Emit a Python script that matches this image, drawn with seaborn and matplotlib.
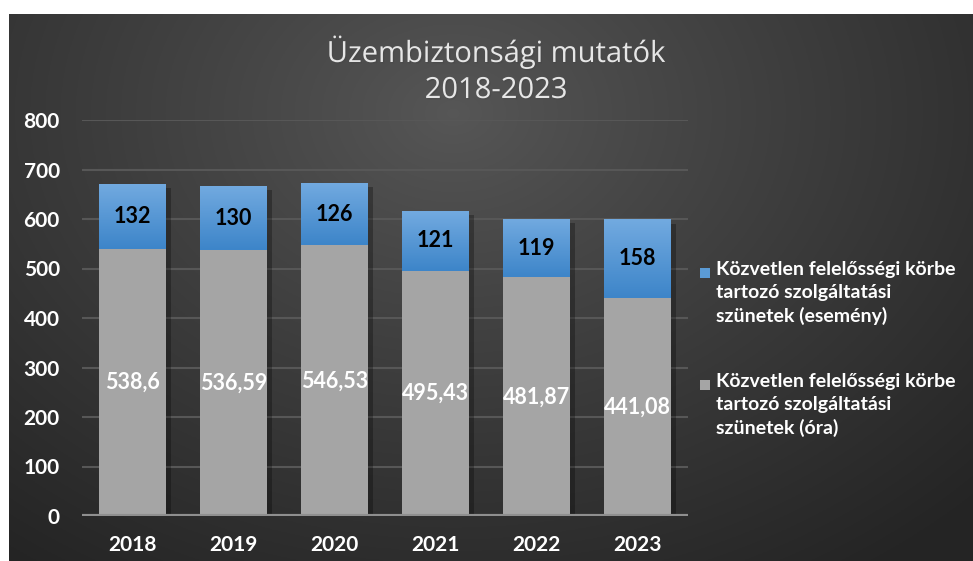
import numpy as np
import pandas as pd
import matplotlib
matplotlib.use("Agg")
import matplotlib.pyplot as plt
import matplotlib.patheffects as pe
from matplotlib.patches import Rectangle
from matplotlib.colors import LinearSegmentedColormap
import seaborn as sns

years = ["2018", "2019", "2020", "2021", "2022", "2023"]
hours = [538.6, 536.59, 546.53, 495.43, 481.87, 441.08]
events = [132, 130, 126, 121, 119, 158]
hour_labels = ["538,6", "536,59", "546,53", "495,43", "481,87", "441,08"]
yticks = [0, 100, 200, 300, 400, 500, 600, 700, 800]
title = "Üzembiztonsági mutatók\n2018-2023"
legend_labels = [
    "Közvetlen felelősségi körbe\ntartozó szolgáltatási\nszünetek (esemény)",
    "Közvetlen felelősségi körbe\ntartozó szolgáltatási\nszünetek (óra)",
]

sns.set_theme(style="dark")
FONT = ["Lato", "DejaVu Sans"]
plt.rcParams["font.family"] = FONT

W, H = 973, 561
fig = plt.figure(figsize=(W / 100, H / 100), dpi=100)
fig.patch.set_facecolor("white")

# background with radial gradient
bg = fig.add_axes([9 / W, 0, (W - 9) / W, (H - 14) / H])
bg.set_axis_off()
ny, nx = 300, 520
yy, xx = np.mgrid[0:ny, 0:nx]
cx, cy = 0.46 * nx, 0.18 * ny
d = np.sqrt(((xx - cx) / (0.75 * nx)) ** 2 + ((yy - cy) / (1.0 * ny)) ** 2)
d = np.clip(d, 0, 1)
val = 0.34 - (0.34 - 0.145) * d ** 0.9
img = np.dstack([val, val, val])
bg.imshow(img, aspect="auto", extent=[0, 1, 0, 1], origin="upper")
bg.set_xlim(0, 1)
bg.set_ylim(0, 1)

# main axes
left, right, top, bottom = 82, 688, 120, 516
ax = fig.add_axes([left / W, (H - bottom) / H, (right - left) / W, (bottom - top) / H])
ax.set_facecolor((0, 0, 0, 0))

df = pd.DataFrame({"year": years, "hours": hours, "events": events})
df["total"] = df["hours"] + df["events"]

blue = "#5b9bd5"
grey = "#a5a5a5"
sns.barplot(data=df, x="year", y="total", color=blue, width=0.66, ax=ax,
            saturation=1, zorder=3)
sns.barplot(data=df, x="year", y="hours", color=grey, width=0.66, ax=ax,
            saturation=1, zorder=4)

shadow = [pe.SimplePatchShadow(offset=(4, -3), shadow_rgbFace="black", alpha=0.28)]
top_patches = ax.containers[0]
bot_patches = ax.containers[1]
grad = np.linspace(0, 1, 100).reshape(-1, 1)
cmap = LinearSegmentedColormap.from_list("bl", ["#3d85c9", "#72aae0"])
for p_top, p_bot in zip(top_patches, bot_patches):
    p_top.set_path_effects(shadow)
    x0 = p_top.get_x()
    w = p_top.get_width()
    y1 = p_top.get_height()
    y0 = p_bot.get_height()
    im = ax.imshow(grad, cmap=cmap, aspect="auto", origin="lower",
                   extent=[x0, x0 + w, y0, y1], zorder=3.5)
    im.set_clip_path(p_top)
    p_bot.set_edgecolor("none")
    p_top.set_edgecolor("none")

ax.set_xlim(-0.5, 5.5)
ax.set_ylim(0, 800)
ax.set_yticks(yticks)
ax.grid(axis="y", color="#575757", linewidth=1.5, zorder=0)
ax.grid(axis="x", visible=False)
ax.axhline(0, color="#8f8f8f", linewidth=3, zorder=5)
for s in ax.spines.values():
    s.set_visible(False)
ax.tick_params(axis="both", length=0, colors="white", labelsize=15)
ax.tick_params(axis="y", pad=16)
ax.tick_params(axis="x", pad=14)
for lab in ax.get_xticklabels() + ax.get_yticklabels():
    lab.set_fontweight("bold")
    lab.set_fontfamily(FONT)
ax.set_xlabel("")
ax.set_ylabel("")

# data labels
for i, (p_top, p_bot) in enumerate(zip(top_patches, bot_patches)):
    xc = p_top.get_x() + p_top.get_width() / 2
    ax.text(xc, (p_bot.get_height() + p_top.get_height()) / 2, str(events[i]),
            ha="center", va="center", color="black", fontsize=15.5,
            fontweight="bold", zorder=6)
    ax.text(xc, p_bot.get_height() / 2, hour_labels[i],
            ha="center", va="center", color="white", fontsize=15.5,
            fontweight="bold", zorder=6)

# title
fig.text(496 / W, 1 - 70 / H, title, ha="center", va="center",
         color="#e6e6e6", fontsize=21, fontweight="normal",
         linespacing=1.32, family=["Open Sans", "DejaVu Sans"],
         path_effects=[pe.SimplePatchShadow(offset=(1, -1), alpha=0.4),
                       pe.withSimplePatchShadow(offset=(1, -1), alpha=0.4)][1:])

# legend (manual)
leg_colors = [blue, grey]
leg_y = [273, 385]
for c, y, lab in zip(leg_colors, leg_y, legend_labels):
    fig.patches.append(Rectangle((700 / W, 1 - (y + 5) / H), 10 / W, 10 / H,
                                 transform=fig.transFigure, facecolor=c,
                                 edgecolor="none"))
    fig.text(716 / W, 1 - (y - 12) / H, lab, ha="left", va="top",
             color="white", fontsize=14, fontweight="bold",
             linespacing=1.4, family=FONT)

fig.savefig("out.png", dpi=100)
